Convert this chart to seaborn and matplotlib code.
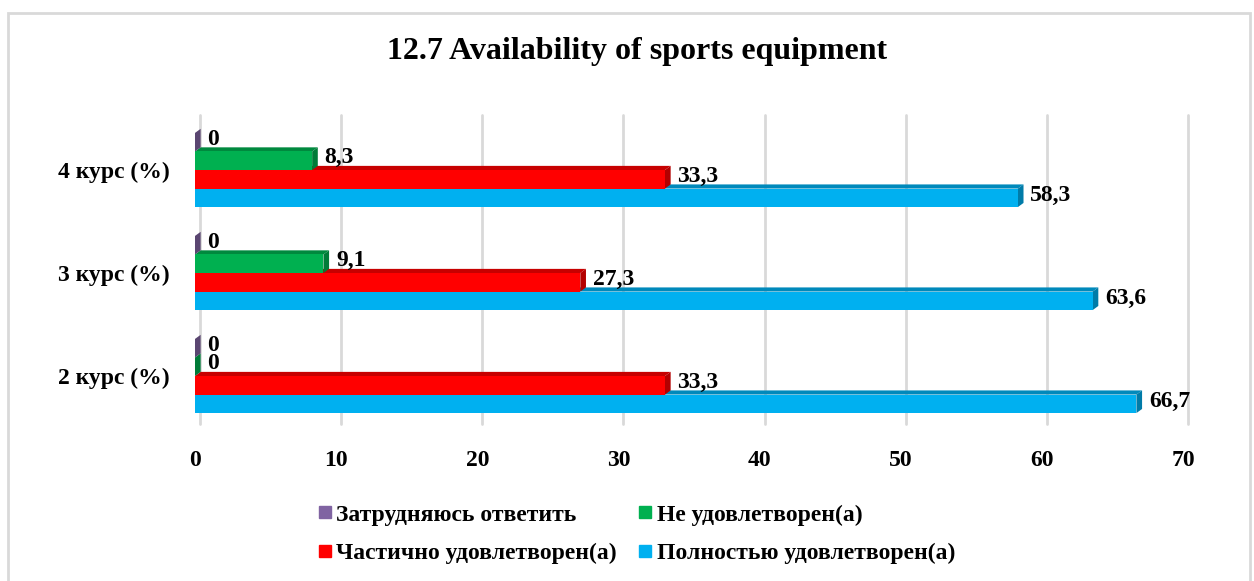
import matplotlib
matplotlib.use("Agg")
import matplotlib.pyplot as plt
import matplotlib.colors as mcolors
import matplotlib.transforms as mtransforms
from matplotlib.patches import Polygon, Rectangle
from matplotlib.lines import Line2D
import seaborn as sns
import pandas as pd

# ---- data ----
courses = ["4 курс (%)", "3 курс (%)", "2 курс (%)"]
answers = ["Затрудняюсь ответить", "Не удовлетворен(а)",
           "Частично удовлетворен(а)", "Полностью удовлетворен(а)"]
hard_to_say = [0, 0, 0]
not_satisfied = [8.3, 9.1, 0]
partly_satisfied = [33.3, 27.3, 33.3]
fully_satisfied = [58.3, 63.6, 66.7]
colors = ["#8064A2", "#00B050", "#FF0000", "#00B0F0"]
title = "12.7 Availability of sports equipment"
xticks = [0, 10, 20, 30, 40, 50, 60, 70]

series = [hard_to_say, not_satisfied, partly_satisfied, fully_satisfied]
rows = []
for ans, vals in zip(answers, series):
    for c, v in zip(courses, vals):
        rows.append({"course": c, "answer": ans, "value": v})
df = pd.DataFrame(rows)

sns.set_style("white")
plt.rcParams["font.family"] = ["Liberation Serif", "DejaVu Serif"]
plt.rcParams["font.weight"] = "bold"
plt.rcParams["text.color"] = "black"
plt.rcParams["xtick.color"] = "black"
plt.rcParams["ytick.color"] = "black"

fig = plt.figure(figsize=(12.54, 5.81), dpi=100)
ax = fig.add_axes([195 / 1254, 1 - 427.5 / 581, 988 / 1254, 309 / 581])

sns.barplot(data=df, y="course", x="value", hue="answer", order=courses,
            hue_order=answers, palette=colors, orient="h", width=0.72,
            saturation=1, legend=False, ax=ax, zorder=3,
            edgecolor="none", linewidth=0)

ax.set_xlim(0, 70)
ax.set_ylim(2.5, -0.5)
ax.set_xticks(xticks)
ax.set_xticklabels([str(t) for t in xticks], fontsize=17, fontweight="bold")
ax.tick_params(axis="x", length=0, pad=16)
ax.tick_params(axis="y", length=0, pad=18, labelsize=17)
for lab in ax.get_yticklabels():
    lab.set_fontweight("bold")
ax.set_xlabel("")
ax.set_ylabel("")
for s in ax.spines.values():
    s.set_visible(False)
ax.grid(axis="x", color="#D9D9D9", linewidth=2, zorder=0)
ax.set_axisbelow(True)
# back-wall gridlines appear shifted slightly (3D perspective)
shift = mtransforms.ScaledTranslation(5 / 100, 4 / 100, fig.dpi_scale_trans)
for gl in ax.get_xgridlines():
    gl.set_transform(gl.get_transform() + shift)
    gl.set_clip_on(False)

# pseudo-3D depth faces derived from the drawn bars
dx = 0.4    # data units in x
dy = 0.04   # category units
for i, cont in enumerate(ax.containers):
    base = mcolors.to_rgb(colors[i])
    dark = tuple(c * 0.78 for c in base)
    z = 10 - i * 2
    for p in cont.patches:
        x0 = p.get_x()
        w = p.get_width()
        y0 = p.get_y()
        h = p.get_height()
        x1 = x0 + w
        ytop = min(y0, y0 + h)
        ybot = max(y0, y0 + h)
        p.set_zorder(z + 1)
        top = Polygon([(x0, ytop), (x1, ytop), (x1 + dx, ytop - dy), (x0 + dx, ytop - dy)],
                      closed=True, facecolor=dark, edgecolor="none", zorder=z)
        side = Polygon([(x1, ytop), (x1, ybot), (x1 + dx, ybot - dy), (x1 + dx, ytop - dy)],
                       closed=True, facecolor=tuple(c * 0.7 for c in base),
                       edgecolor="none", zorder=z)
        ax.add_patch(top)
        ax.add_patch(side)
        val = w
        txt = ("%.1f" % val).replace(".", ",") if val != 0 else "0"
        ax.annotate(txt, xy=(x1, (ytop + ybot) / 2), xytext=(9, 2),
                    textcoords="offset points", ha="left", va="center",
                    fontsize=17, fontweight="bold", zorder=20)

fig.text(637.5 / 1254, 1 - 52 / 581, title, ha="center", va="center",
         fontsize=23, fontweight="bold")

handles = [Line2D([0], [0], marker="s", color="none", markerfacecolor=c,
                  markeredgecolor=c, markersize=9) for c in colors]
order = [0, 2, 1, 3]
fig.legend([handles[k] for k in order], [answers[k] for k in order],
           loc="center", bbox_to_anchor=(636.5 / 1254, 1 - 534 / 581), ncol=2,
           frameon=False, handlelength=0.6, handletextpad=0.2,
           columnspacing=0.9, labelspacing=0.72,
           prop={"weight": "bold", "size": 17})

fig.add_artist(Rectangle((8 / 1254, -0.01), (1250 - 8) / 1254, (581 - 13) / 581 + 0.01,
                         transform=fig.transFigure, fill=False,
                         edgecolor="#D9D9D9", linewidth=2, clip_on=False))

fig.savefig("out.png", dpi=100)
